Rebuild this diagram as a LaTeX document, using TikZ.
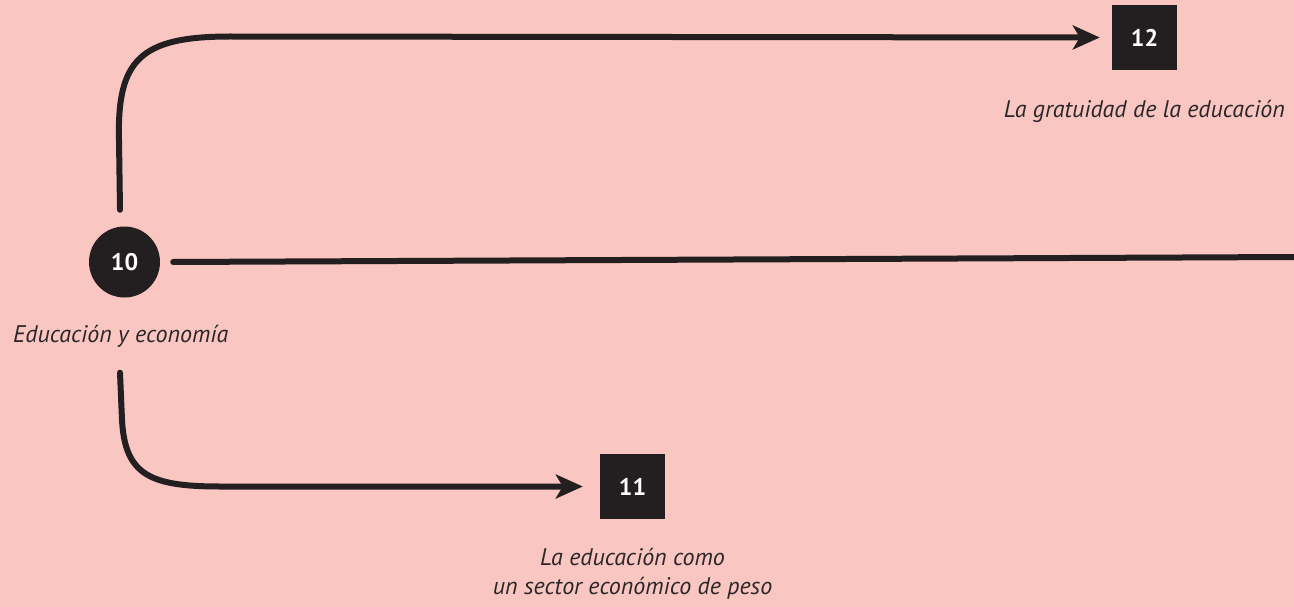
\documentclass[tikz,border=0pt]{standalone}
\usepackage{fontspec}
\setmainfont{PT Sans}
\usetikzlibrary{arrows.meta}
\definecolor{bgpink}{HTML}{F9C6C2}
\definecolor{ink}{HTML}{231F20}
\definecolor{txt}{HTML}{2B2728}
\tikzset{
  pencil/.style={draw=ink, line width=6pt, line cap=round, line join=round},
  pencilarrow/.style={pencil, -{Stealth[length=27pt,width=24pt,inset=7pt]}},
  numcircle/.style={circle, fill=ink, minimum size=71pt, inner sep=0pt, text=white, font=\fontsize{24}{28}\selectfont\bfseries},
  numbox/.style={rectangle, fill=ink, minimum size=65pt, inner sep=0pt, text=white, font=\fontsize{24}{28}\selectfont\bfseries},
  lbl/.style={text=txt, inner sep=0pt, font=\fontsize{24}{29}\selectfont\itshape}
}
\begin{document}
\begin{tikzpicture}[x=1pt,y=-1pt]
\fill[bgpink] (0,0) rectangle (1294,607);
\useasboundingbox (0,0) rectangle (1294,607);

\node[numcircle] (n10) at (124.5,262) {10};
\node[numbox] (n12) at (1144.5,37.5) {12};
\node[numbox] (n11) at (632.5,486.5) {11};

\node[lbl, anchor=base west] (l10) at (13,342) {Educación y economía};
\node[lbl, anchor=base east] (l12) at (1285,118) {La gratuidad de la educación};
\node[lbl, anchor=north, align=center] (l11) at (632.5,548) {La educación como\\un sector económico de peso};

\coordinate (rightend) at (1294,257);

% top connector
\draw[pencilarrow, shorten >=12pt]
  ([xshift=-4.5pt,yshift=16.5pt]n10.north) -- (119,140)
  .. controls (117,60) and (140,36.5) .. (230,36.5) -- (n12.west);

% middle line
\draw[pencil] ([xshift=13pt]n10.east) -- (rightend);

% bottom connector
\draw[pencilarrow, shorten >=17pt]
  ([xshift=-4.5pt,yshift=-75pt]n10.south) -- (122,420)
  .. controls (125,475) and (150,486.5) .. (220,486.5) -- (n11.west);
\end{tikzpicture}
\end{document}
